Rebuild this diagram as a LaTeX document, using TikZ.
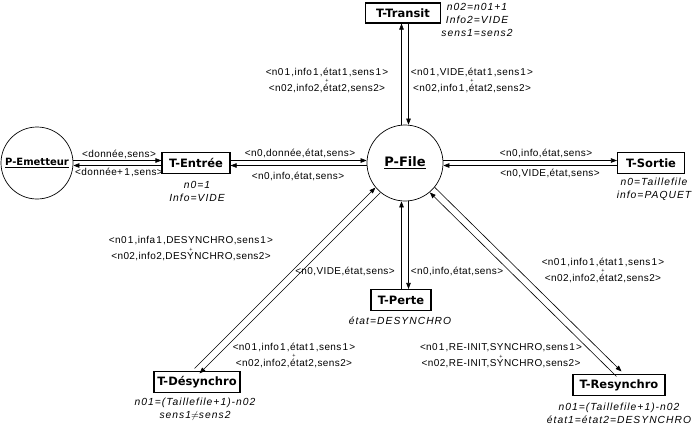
\documentclass[tikz,border=0pt]{standalone}
\usepackage{fontspec}
\setmainfont{Liberation Sans}
\newfontfamily\labf[LetterSpace=4]{Liberation Sans}
\newfontfamily\annf[LetterSpace=10]{Liberation Sans}
\newfontfamily\boxf{DejaVu Sans}
\usetikzlibrary{arrows.meta}
\newcommand\one{\kern1.2pt1\kern1.2pt}
\newcommand\pairlab[2]{#1\\[-3.5pt]{\fontsize{5.5}{5.5}\selectfont+}\\[-2.5pt]#2}
\begin{document}
\begin{tikzpicture}[x=1pt,y=-1pt,
  lab/.style={font=\labf\fontsize{10}{11}\selectfont, inner sep=0pt, align=center},
  ann/.style={font=\annf\itshape\fontsize{10.3}{13}\selectfont, inner sep=0pt, align=center},
  trans/.style={draw, line width=1.1pt, font=\boxf\bfseries\fontsize{11.5}{13}\selectfont, inner sep=0pt, minimum height=21pt},
  place/.style={circle, draw, line width=0.7pt, font=\boxf\bfseries\fontsize{11}{13}\selectfont, inner sep=0pt},
  arr/.style={-{Triangle[length=6pt,width=4.5pt]}, line width=0.6pt}]
\useasboundingbox (0,0) rectangle (692,424);

% places
\node[place, minimum size=72pt, font=\boxf\bfseries\fontsize{10}{12}\selectfont] (PE) at (37,163) {\underline{P-Emetteur}};
\node[place, minimum size=76pt, font=\boxf\bfseries\fontsize{13}{15}\selectfont] (PF) at (405,163) {\underline{P-File}};
% transitions
\node[trans, minimum width=68pt] (TE) at (196,163) {T-Entrée};
\node[trans, minimum width=75pt, minimum height=20pt] (TT) at (403,13) {T-Transit};
\node[trans, minimum width=67pt] (TS) at (651,163) {T-Sortie};
\node[trans, minimum width=60pt] (TP) at (401,300) {T-Perte};
\node[trans, minimum width=86pt] (TD) at (197,382) {T-Désynchro};
\node[trans, minimum width=92pt] (TR) at (619,385) {T-Resynchro};

% horizontal arcs
\draw[arr] ([yshift=2.5pt]PE.east) -- ([yshift=2.5pt]TE.west);
\draw[arr] ([yshift=-2.5pt]TE.west) -- ([yshift=-2.5pt]PE.east);
\draw[arr] ([yshift=2.5pt]TE.east) -- ([yshift=2.5pt]PF.west);
\draw[arr] ([yshift=-2.5pt]PF.west) -- ([yshift=-2.5pt]TE.east);
\draw[arr] ([yshift=2.5pt]PF.east) -- ([yshift=2.5pt]TS.west);
\draw[arr] ([yshift=-2.5pt]TS.west) -- ([yshift=-2.5pt]PF.east);

% vertical arcs
\draw[arr] ([xshift=-3.5pt]PF.north) -- ([xshift=-3.5pt]PF.north |- TT.south);
\draw[arr] ([xshift=3.5pt]PF.north |- TT.south) -- ([xshift=3.5pt]PF.north);
\draw[arr] ([xshift=-3.5pt]PF.south |- TP.north) -- ([xshift=-3.5pt]PF.south);
\draw[arr] ([xshift=3.5pt]PF.south) -- ([xshift=3.5pt]PF.south |- TP.north);

% diagonal arcs
\draw[arr, transform canvas={shift={(-2.5pt,2.5pt)}}] (TD.north) -- (PF);
\draw[arr, transform canvas={shift={(2.5pt,-2.5pt)}}] (PF) -- (TD.north);
\draw[arr, transform canvas={shift={(2.5pt,2.5pt)}}] (PF) -- (TR.north);
\draw[arr, transform canvas={shift={(-2.5pt,-2.5pt)}}] (TR.north) -- (PF);

% arc labels
\node[lab] (l1) at (119,154) {<donnée,sens>};
\node[lab] (l2) at (119,172) {<donnée+\one,sens>};
\node[lab] (l3) at (300,153) {<n0,donnée,état,sens>};
\node[lab] (l4) at (298,176) {<n0,info,état,sens>};
\node[lab] (l5) at (546,153) {<n0,info,état,sens>};
\node[lab] (l6) at (550,173) {<n0,VIDE,état,sens>};
\node[lab] (l7) at (327,80) {\pairlab{<n0\one,info\one,état\one,sens\one>}{<n02,info2,état2,sens2>}};
\node[lab] (l8) at (472,80) {\pairlab{<n0\one,VIDE,état\one,sens\one>}{<n02,info\one,état2,sens2>}};
\node[lab] (l9) at (191,249) {\pairlab{<n0\one,infa\one,DESYNCHRO,sens\one>}{<n02,info2,DESYNCHRO,sens2>}};
\node[lab] (l10) at (345,271) {<n0,VIDE,état,sens>};
\node[lab] (l11) at (457,271) {<n0,info,état,sens>};
\node[lab] (l12) at (294,355) {\pairlab{<n0\one,info\one,état\one,sens\one>}{<n02,info2,état2,sens2>}};
\node[lab] (l13) at (603,270) {\pairlab{<n0\one,info\one,état\one,sens\one>}{<n02,info2,état2,sens2>}};
\node[lab] (l14) at (501,356) {\pairlab{<n0\one,RE-INIT,SYNCHRO,sens\one>}{<n02,RE-INIT,SYNCHRO,sens2>}};

% transition annotations
\node[ann] (a1) at (477,20) {n02=n01+1\\Info2=VIDE\\sens1=sens2};
\node[ann] (a2) at (197,191) {n0=1\\Info=VIDE};
\node[ann] (a3) at (654,189) {n0=Taillefile\\info=PAQUET};
\node[ann] (a4) at (400,321) {état=DESYNCHRO};
\node[ann] (a5) at (195,409) {n01=(Taillefile+1)-n02\\sens1$\neq$sens2};
\node[ann] (a6) at (619,413) {n01=(Taillefile+1)-n02\\état1=état2=DESYNCHRO};
\end{tikzpicture}
\end{document}
